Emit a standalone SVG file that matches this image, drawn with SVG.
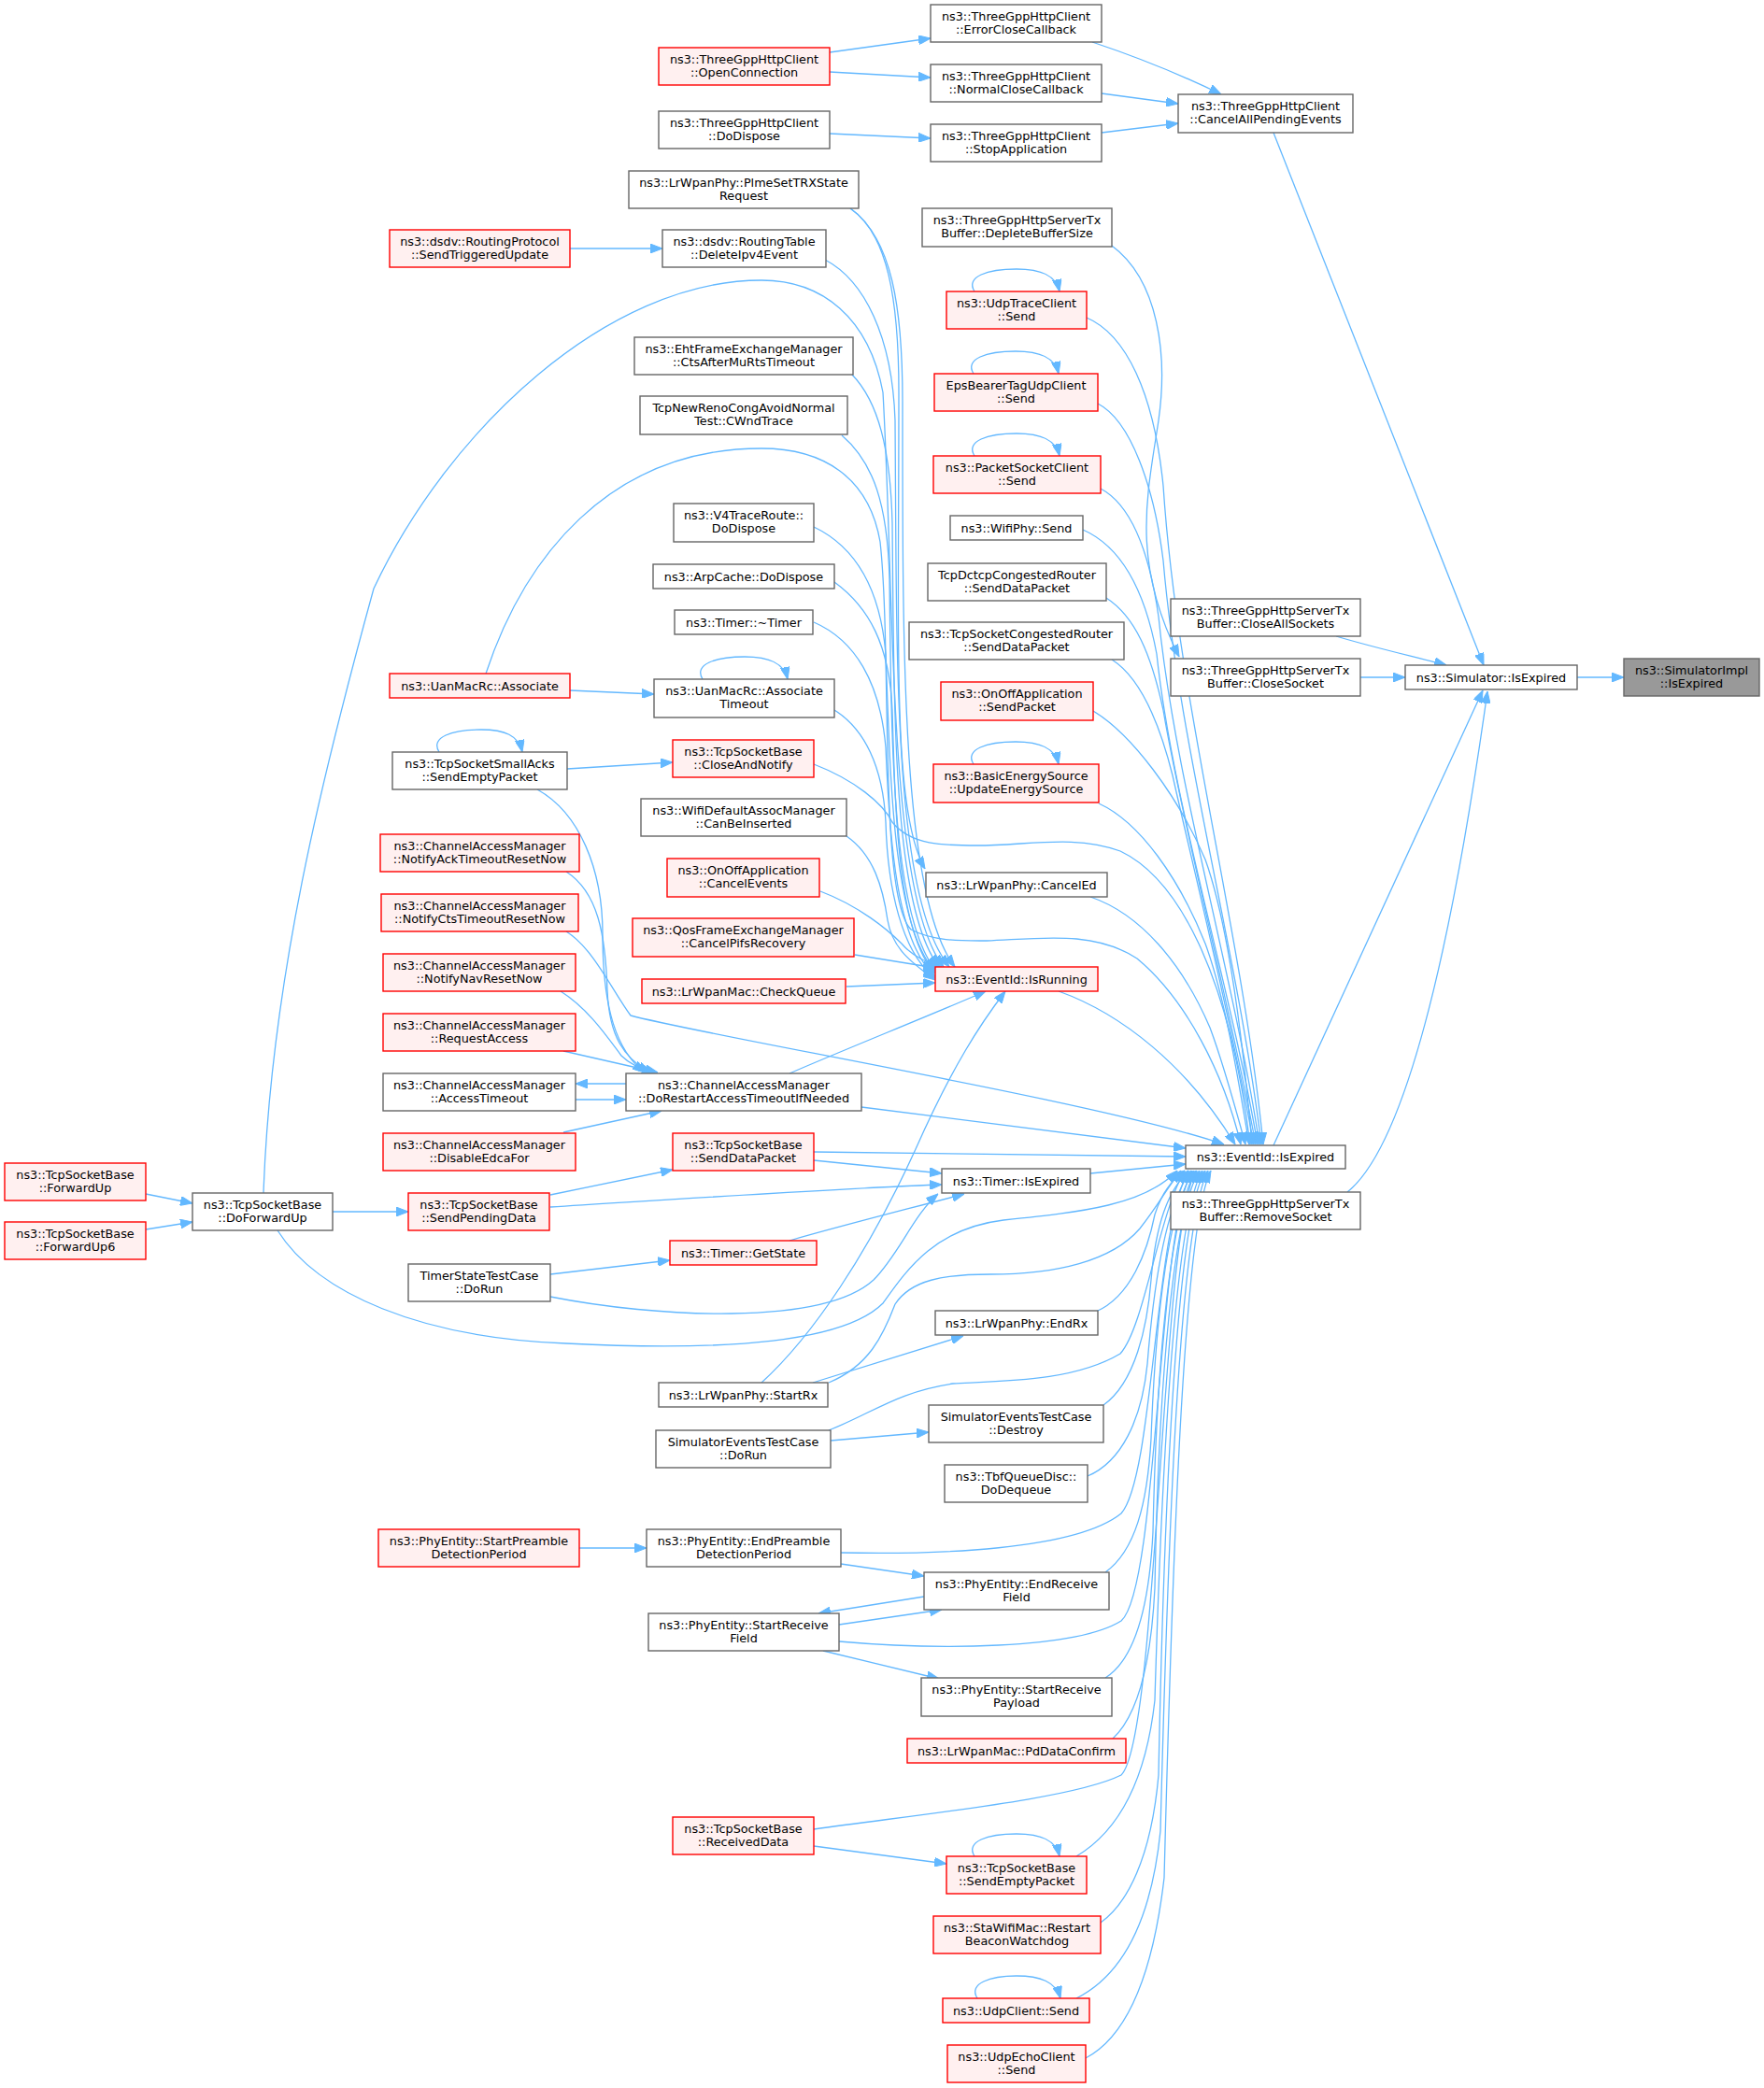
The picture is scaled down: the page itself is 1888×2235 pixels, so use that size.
<svg xmlns="http://www.w3.org/2000/svg" width="1888" height="2235" viewBox="0 0 1888 2235">
<style>
.n rect{fill:#ffffff;stroke:#666666;stroke-width:1.4}
.r rect{fill:#fff0f0;stroke:#ff0000;stroke-width:1.4}
.g rect{fill:#999999;stroke:#666666;stroke-width:1.4}
text{font-family:"DejaVu Sans","Liberation Sans",sans-serif;font-size:12.8px;text-anchor:middle;fill:#000000}
#edges path{fill:none;stroke:#63b8ff;stroke-width:1.3;marker-end:url(#a)}
</style>
<defs>
<marker id="a" viewBox="0 0 13 10" refX="13" refY="5" markerWidth="13" markerHeight="10" markerUnits="userSpaceOnUse" orient="auto">
<path d="M0,0 L13,5 L0,10 Z" fill="#63b8ff" stroke="#63b8ff" stroke-width="1"/>
</marker>
</defs>
<rect width="1888" height="2235" fill="#ffffff"/>
<g id="edges">
<path d="M1688,725 L1738,725"/>
<path d="M1363,142 L1588,712"/>
<path d="M1430,681 C1470,693 1510,702 1548,712"/>
<path d="M1456,725 L1504,725"/>
<path d="M1363,1226 L1587,739"/>
<path d="M1442,1276 C1500,1230 1550,1040 1592,740"/>
<path d="M1169,45 C1220,62 1260,78 1307,101"/>
<path d="M1179,100 L1261,111"/>
<path d="M1179,142 L1261,132"/>
<path d="M888,56 L996,41"/>
<path d="M888,77 L996,83"/>
<path d="M888,143 L996,148"/>
<path d="M610,266 L709,266"/>
<path d="M610,739 L700,743"/>
<path d="M752,727 C742,711 766,703 797,703 C822,703 839,709 843,727"/>
<path d="M470,805 C460,789 484,781 515,781 C540,781 555,787 559,805"/>
<path d="M1043,312 C1033,296 1057,288 1088,288 C1113,288 1130,294 1134,312"/>
<path d="M1042,400 C1032,384 1056,376 1087,376 C1112,376 1129,382 1133,400"/>
<path d="M1043,488 C1033,472 1057,464 1088,464 C1113,464 1130,470 1134,488"/>
<path d="M1042,818 C1032,802 1056,794 1087,794 C1112,794 1129,800 1133,818"/>
<path d="M1043,1987 C1033,1971 1057,1963 1088,1963 C1113,1963 1130,1969 1134,1987"/>
<path d="M1046,2139 C1036,2123 1060,2115 1088,2115 C1113,2115 1130,2121 1135,2139"/>
<path d="M607,823 L720,816"/>
<path d="M156,1278 L206,1288"/>
<path d="M156,1316 L206,1308"/>
<path d="M356,1297 L437,1297"/>
<path d="M589,1279 L720,1252"/>
<path d="M589,1292 C750,1282 900,1272 1008,1268"/>
<path d="M871,1233 L1269,1238"/>
<path d="M871,1242 L1008,1256"/>
<path d="M845,1328 C900,1312 980,1292 1032,1278"/>
<path d="M589,1364 L717,1349"/>
<path d="M589,1388 C700,1410 880,1420 935,1370 C962,1343 978,1300 1004,1278"/>
<path d="M670,1160 L616,1160"/>
<path d="M616,1177 L670,1177"/>
<path d="M575,845 C620,870 645,930 645,1000 C645,1080 660,1125 690,1148"/>
<path d="M606,933 C640,955 648,1000 650,1060 C652,1110 668,1132 695,1148"/>
<path d="M600,1061 C630,1080 650,1110 665,1130 C675,1140 688,1145 700,1148"/>
<path d="M603,1125 L704,1148"/>
<path d="M603,1212 L708,1189"/>
<path d="M606,997 C635,1015 655,1060 675,1087 C760,1110 1180,1180 1310,1225"/>
<path d="M845,1149 C900,1125 1000,1085 1055,1061"/>
<path d="M922,1185 L1269,1229"/>
<path d="M815,1480 C870,1430 930,1340 980,1230 C1020,1140 1050,1095 1076,1061"/>
<path d="M870,1480 L1031,1430"/>
<path d="M887,1480 C930,1462 945,1430 958,1396 C975,1370 1010,1364 1060,1364 C1130,1364 1190,1350 1220,1315 C1240,1290 1250,1270 1264,1253"/>
<path d="M889,1542 L994,1533"/>
<path d="M887,1531 C935,1512 960,1490 1020,1481 C1080,1478 1150,1478 1199,1449 C1225,1420 1240,1300 1268,1253"/>
<path d="M620,1657 L692,1657"/>
<path d="M900,1674 L989,1687"/>
<path d="M898,1739 L1008,1723"/>
<path d="M989,1709 L876,1727"/>
<path d="M881,1767 L1005,1797"/>
<path d="M900,1662 C1000,1664 1150,1660 1200,1620 C1235,1580 1235,1320 1272,1253"/>
<path d="M898,1757 C1000,1766 1150,1766 1200,1735 C1240,1700 1238,1320 1276,1253"/>
<path d="M871,1976 L1013,1995"/>
<path d="M871,1958 C1000,1940 1150,1925 1200,1900 C1240,1860 1242,1320 1280,1253"/>
<path d="M297,1317 C340,1385 450,1432 606,1438 C760,1446 900,1440 945,1395 C970,1360 1000,1315 1074,1306 C1160,1297 1225,1290 1260,1253"/>
<path d="M1173,1404 C1210,1388 1228,1340 1236,1300 C1244,1275 1255,1262 1268,1253"/>
<path d="M1181,1504 C1215,1480 1228,1420 1232,1370 C1237,1310 1250,1275 1272,1253"/>
<path d="M1164,1580 C1200,1565 1222,1520 1228,1460 C1236,1360 1250,1285 1275,1253"/>
<path d="M1183,1683 C1215,1660 1228,1610 1232,1540 C1237,1400 1252,1290 1278,1253"/>
<path d="M1183,1796 C1215,1776 1230,1720 1234,1640 C1238,1450 1254,1290 1281,1253"/>
<path d="M1191,1861 C1218,1836 1232,1780 1236,1700 C1240,1480 1256,1295 1284,1253"/>
<path d="M1152,1987 C1194,1962 1226,1910 1236,1820 C1244,1550 1258,1300 1287,1253"/>
<path d="M1178,2058 C1206,2038 1232,1990 1240,1900 C1246,1600 1260,1300 1290,1253"/>
<path d="M1152,2139 C1200,2115 1232,2058 1242,1960 C1250,1650 1262,1310 1293,1253"/>
<path d="M1162,2203 C1200,2183 1232,2130 1246,2010 C1254,1700 1266,1310 1296,1253"/>
<path d="M1167,1256 L1269,1246"/>
<path d="M1190,263 C1240,300 1250,380 1240,450 C1228,530 1210,600 1262,703"/>
<path d="M1163,340 C1205,358 1235,420 1245,520 C1260,750 1330,1000 1352,1225"/>
<path d="M1175,432 C1210,450 1235,520 1245,600 C1262,800 1325,1020 1350,1225"/>
<path d="M1178,523 C1210,540 1230,590 1240,660 C1258,840 1320,1040 1348,1225"/>
<path d="M1159,567 C1200,585 1225,630 1238,700 C1255,860 1318,1060 1346,1225"/>
<path d="M1184,640 C1215,660 1232,700 1245,760 C1265,880 1315,1070 1344,1225"/>
<path d="M1190,706 C1220,725 1240,770 1255,830 C1275,920 1315,1080 1342,1225"/>
<path d="M1170,761 C1210,785 1260,850 1290,920 C1315,990 1330,1110 1340,1225"/>
<path d="M1176,860 C1220,880 1262,940 1290,1010 C1312,1070 1326,1160 1337,1225"/>
<path d="M1167,960 C1220,978 1265,1030 1295,1100 C1310,1140 1322,1185 1333,1225"/>
<path d="M1133,1061 C1200,1085 1270,1140 1322,1225"/>
<path d="M871,818 C915,835 945,860 955,880 C975,905 1010,905 1046,905 C1100,905 1150,893 1199,911 C1260,940 1315,1040 1338,1225"/>
<path d="M520,721 C560,600 650,480 815,480 C880,480 930,510 942,580 C955,700 940,960 975,995 C1000,1008 1030,1007 1056,1007 C1110,1005 1170,995 1217,1026 C1270,1070 1310,1150 1328,1225"/>
<path d="M282,1277 C290,1050 345,830 400,630 C480,460 650,300 815,300 C880,300 930,340 945,420 C958,650 950,960 1010,1035"/>
<path d="M910,223 C950,250 962,320 962,420 C962,700 955,870 990,930"/>
<path d="M910,223 C955,255 966,330 966,430 C966,700 965,960 1022,1035"/>
<path d="M883,278 C925,300 955,360 958,450 C960,700 955,960 1016,1035"/>
<path d="M912,401 C940,430 953,480 955,560 C957,760 955,970 1005,1035"/>
<path d="M901,466 C935,495 950,540 952,620 C954,800 955,980 1001,1038"/>
<path d="M871,564 C915,585 942,630 948,700 C953,830 955,990 1001,1040"/>
<path d="M893,623 C930,650 952,690 955,760 C958,860 960,1000 1001,1042"/>
<path d="M871,666 C915,685 942,730 948,800 C952,900 960,1010 1001,1045"/>
<path d="M893,760 C925,780 945,820 948,880 C950,950 965,1020 1001,1047"/>
<path d="M906,895 C935,915 945,950 950,985 C955,1015 975,1030 1001,1049"/>
<path d="M878,954 C920,970 950,995 965,1010 C975,1022 990,1030 1008,1035"/>
<path d="M915,1022 L1001,1036"/>
<path d="M906,1056 L1001,1052"/>
</g>
<g id="n1" class="g"><rect x="1738" y="705" width="145" height="40"/><text x="1810.5" y="722">ns3::SimulatorImpl<tspan x="1810.5" dy="14">::IsExpired</tspan></text></g>
<g id="n2" class="n"><rect x="1504" y="712" width="184" height="26"/><text x="1596" y="729.5">ns3::Simulator::IsExpired</text></g>
<g id="n3" class="n"><rect x="1261" y="101" width="187" height="41"/><text x="1354.5" y="118">ns3::ThreeGppHttpClient<tspan x="1354.5" dy="14">::CancelAllPendingEvents</tspan></text></g>
<g id="n4" class="n"><rect x="996" y="5" width="183" height="40"/><text x="1087.5" y="22">ns3::ThreeGppHttpClient<tspan x="1087.5" dy="14">::ErrorCloseCallback</tspan></text></g>
<g id="n5" class="n"><rect x="996" y="69" width="183" height="40"/><text x="1087.5" y="86">ns3::ThreeGppHttpClient<tspan x="1087.5" dy="14">::NormalCloseCallback</tspan></text></g>
<g id="n6" class="n"><rect x="996" y="133" width="183" height="40"/><text x="1087.5" y="150">ns3::ThreeGppHttpClient<tspan x="1087.5" dy="14">::StopApplication</tspan></text></g>
<g id="n7" class="r"><rect x="705" y="51" width="183" height="40"/><text x="796.5" y="68">ns3::ThreeGppHttpClient<tspan x="796.5" dy="14">::OpenConnection</tspan></text></g>
<g id="n8" class="n"><rect x="705" y="119" width="183" height="40"/><text x="796.5" y="136">ns3::ThreeGppHttpClient<tspan x="796.5" dy="14">::DoDispose</tspan></text></g>
<g id="n9" class="n"><rect x="673" y="183" width="246" height="40"/><text x="796" y="200">ns3::LrWpanPhy::PlmeSetTRXState<tspan x="796" dy="14">Request</tspan></text></g>
<g id="n10" class="r"><rect x="417" y="246" width="193" height="40"/><text x="513.5" y="263">ns3::dsdv::RoutingProtocol<tspan x="513.5" dy="14">::SendTriggeredUpdate</tspan></text></g>
<g id="n11" class="n"><rect x="709" y="246" width="175" height="40"/><text x="796.5" y="263">ns3::dsdv::RoutingTable<tspan x="796.5" dy="14">::DeleteIpv4Event</tspan></text></g>
<g id="n12" class="n"><rect x="679" y="361" width="234" height="40"/><text x="796" y="378">ns3::EhtFrameExchangeManager<tspan x="796" dy="14">::CtsAfterMuRtsTimeout</tspan></text></g>
<g id="n13" class="n"><rect x="685" y="424" width="222" height="41"/><text x="796" y="441">TcpNewRenoCongAvoidNormal<tspan x="796" dy="14">Test::CWndTrace</tspan></text></g>
<g id="n14" class="n"><rect x="721" y="539" width="150" height="41"/><text x="796" y="556">ns3::V4TraceRoute::<tspan x="796" dy="14">DoDispose</tspan></text></g>
<g id="n15" class="n"><rect x="699" y="604" width="194" height="26"/><text x="796" y="621.5">ns3::ArpCache::DoDispose</text></g>
<g id="n16" class="n"><rect x="722" y="653" width="148" height="26"/><text x="796" y="670.5">ns3::Timer::~Timer</text></g>
<g id="n17" class="r"><rect x="417" y="721" width="193" height="26"/><text x="513.5" y="738.5">ns3::UanMacRc::Associate</text></g>
<g id="n18" class="n"><rect x="700" y="727" width="193" height="41"/><text x="796.5" y="744">ns3::UanMacRc::Associate<tspan x="796.5" dy="14">Timeout</tspan></text></g>
<g id="n19" class="n"><rect x="420" y="805" width="187" height="40"/><text x="513.5" y="822">ns3::TcpSocketSmallAcks<tspan x="513.5" dy="14">::SendEmptyPacket</tspan></text></g>
<g id="n20" class="r"><rect x="720" y="792" width="151" height="40"/><text x="795.5" y="809">ns3::TcpSocketBase<tspan x="795.5" dy="14">::CloseAndNotify</tspan></text></g>
<g id="n21" class="n"><rect x="686" y="855" width="220" height="40"/><text x="796" y="872">ns3::WifiDefaultAssocManager<tspan x="796" dy="14">::CanBeInserted</tspan></text></g>
<g id="n22" class="r"><rect x="407" y="893" width="213" height="40"/><text x="513.5" y="910">ns3::ChannelAccessManager<tspan x="513.5" dy="14">::NotifyAckTimeoutResetNow</tspan></text></g>
<g id="n23" class="r"><rect x="714" y="919" width="163" height="41"/><text x="795.5" y="936">ns3::OnOffApplication<tspan x="795.5" dy="14">::CancelEvents</tspan></text></g>
<g id="n24" class="r"><rect x="408" y="957" width="211" height="40"/><text x="513.5" y="974">ns3::ChannelAccessManager<tspan x="513.5" dy="14">::NotifyCtsTimeoutResetNow</tspan></text></g>
<g id="n25" class="r"><rect x="677" y="983" width="237" height="41"/><text x="795.5" y="1000">ns3::QosFrameExchangeManager<tspan x="795.5" dy="14">::CancelPifsRecovery</tspan></text></g>
<g id="n26" class="r"><rect x="410" y="1021" width="206" height="40"/><text x="513" y="1038">ns3::ChannelAccessManager<tspan x="513" dy="14">::NotifyNavResetNow</tspan></text></g>
<g id="n27" class="r"><rect x="687" y="1048" width="218" height="26"/><text x="796" y="1065.5">ns3::LrWpanMac::CheckQueue</text></g>
<g id="n28" class="r"><rect x="410" y="1085" width="206" height="40"/><text x="513" y="1102">ns3::ChannelAccessManager<tspan x="513" dy="14">::RequestAccess</tspan></text></g>
<g id="n29" class="n"><rect x="410" y="1149" width="206" height="40"/><text x="513" y="1166">ns3::ChannelAccessManager<tspan x="513" dy="14">::AccessTimeout</tspan></text></g>
<g id="n30" class="n"><rect x="670" y="1149" width="252" height="40"/><text x="796" y="1166">ns3::ChannelAccessManager<tspan x="796" dy="14">::DoRestartAccessTimeoutIfNeeded</tspan></text></g>
<g id="n31" class="r"><rect x="410" y="1213" width="206" height="40"/><text x="513" y="1230">ns3::ChannelAccessManager<tspan x="513" dy="14">::DisableEdcaFor</tspan></text></g>
<g id="n32" class="r"><rect x="720" y="1213" width="151" height="40"/><text x="795.5" y="1230">ns3::TcpSocketBase<tspan x="795.5" dy="14">::SendDataPacket</tspan></text></g>
<g id="n33" class="r"><rect x="5" y="1245" width="151" height="40"/><text x="80.5" y="1262">ns3::TcpSocketBase<tspan x="80.5" dy="14">::ForwardUp</tspan></text></g>
<g id="n34" class="n"><rect x="206" y="1277" width="150" height="40"/><text x="281" y="1294">ns3::TcpSocketBase<tspan x="281" dy="14">::DoForwardUp</tspan></text></g>
<g id="n35" class="r"><rect x="437" y="1277" width="151" height="40"/><text x="512.5" y="1294">ns3::TcpSocketBase<tspan x="512.5" dy="14">::SendPendingData</tspan></text></g>
<g id="n36" class="r"><rect x="5" y="1308" width="151" height="40"/><text x="80.5" y="1325">ns3::TcpSocketBase<tspan x="80.5" dy="14">::ForwardUp6</tspan></text></g>
<g id="n37" class="r"><rect x="717" y="1328" width="157" height="26"/><text x="795.5" y="1345.5">ns3::Timer::GetState</text></g>
<g id="n38" class="n"><rect x="437" y="1353" width="152" height="40"/><text x="513" y="1370">TimerStateTestCase<tspan x="513" dy="14">::DoRun</tspan></text></g>
<g id="n39" class="n"><rect x="705" y="1480" width="181" height="26"/><text x="795.5" y="1497.5">ns3::LrWpanPhy::StartRx</text></g>
<g id="n40" class="n"><rect x="702" y="1531" width="187" height="40"/><text x="795.5" y="1548">SimulatorEventsTestCase<tspan x="795.5" dy="14">::DoRun</tspan></text></g>
<g id="n41" class="r"><rect x="405" y="1637" width="215" height="40"/><text x="512.5" y="1654">ns3::PhyEntity::StartPreamble<tspan x="512.5" dy="14">DetectionPeriod</tspan></text></g>
<g id="n42" class="n"><rect x="692" y="1637" width="208" height="40"/><text x="796" y="1654">ns3::PhyEntity::EndPreamble<tspan x="796" dy="14">DetectionPeriod</tspan></text></g>
<g id="n43" class="n"><rect x="694" y="1727" width="204" height="40"/><text x="796" y="1744">ns3::PhyEntity::StartReceive<tspan x="796" dy="14">Field</tspan></text></g>
<g id="n44" class="r"><rect x="720" y="1945" width="151" height="40"/><text x="795.5" y="1962">ns3::TcpSocketBase<tspan x="795.5" dy="14">::ReceivedData</tspan></text></g>
<g id="n45" class="n"><rect x="987" y="223" width="203" height="41"/><text x="1088.5" y="240">ns3::ThreeGppHttpServerTx<tspan x="1088.5" dy="14">Buffer::DepleteBufferSize</tspan></text></g>
<g id="n46" class="r"><rect x="1013" y="312" width="150" height="40"/><text x="1088" y="329">ns3::UdpTraceClient<tspan x="1088" dy="14">::Send</tspan></text></g>
<g id="n47" class="r"><rect x="1000" y="400" width="175" height="40"/><text x="1087.5" y="417">EpsBearerTagUdpClient<tspan x="1087.5" dy="14">::Send</tspan></text></g>
<g id="n48" class="r"><rect x="999" y="488" width="179" height="40"/><text x="1088.5" y="505">ns3::PacketSocketClient<tspan x="1088.5" dy="14">::Send</tspan></text></g>
<g id="n49" class="n"><rect x="1017" y="552" width="142" height="26"/><text x="1088" y="569.5">ns3::WifiPhy::Send</text></g>
<g id="n50" class="n"><rect x="993" y="603" width="191" height="40"/><text x="1088.5" y="620">TcpDctcpCongestedRouter<tspan x="1088.5" dy="14">::SendDataPacket</tspan></text></g>
<g id="n51" class="n"><rect x="973" y="666" width="230" height="40"/><text x="1088" y="683">ns3::TcpSocketCongestedRouter<tspan x="1088" dy="14">::SendDataPacket</tspan></text></g>
<g id="n52" class="r"><rect x="1007" y="730" width="163" height="41"/><text x="1088.5" y="747">ns3::OnOffApplication<tspan x="1088.5" dy="14">::SendPacket</tspan></text></g>
<g id="n53" class="r"><rect x="999" y="818" width="177" height="41"/><text x="1087.5" y="835">ns3::BasicEnergySource<tspan x="1087.5" dy="14">::UpdateEnergySource</tspan></text></g>
<g id="n54" class="n"><rect x="991" y="934" width="194" height="26"/><text x="1088" y="951.5">ns3::LrWpanPhy::CancelEd</text></g>
<g id="n55" class="r"><rect x="1001" y="1035" width="174" height="26"/><text x="1088" y="1052.5">ns3::EventId::IsRunning</text></g>
<g id="n56" class="n"><rect x="1008" y="1251" width="159" height="26"/><text x="1087.5" y="1268.5">ns3::Timer::IsExpired</text></g>
<g id="n57" class="n"><rect x="1001" y="1403" width="174" height="26"/><text x="1088" y="1420.5">ns3::LrWpanPhy::EndRx</text></g>
<g id="n58" class="n"><rect x="994" y="1504" width="187" height="40"/><text x="1087.5" y="1521">SimulatorEventsTestCase<tspan x="1087.5" dy="14">::Destroy</tspan></text></g>
<g id="n59" class="n"><rect x="1011" y="1568" width="153" height="40"/><text x="1087.5" y="1585">ns3::TbfQueueDisc::<tspan x="1087.5" dy="14">DoDequeue</tspan></text></g>
<g id="n60" class="n"><rect x="989" y="1683" width="198" height="40"/><text x="1088" y="1700">ns3::PhyEntity::EndReceive<tspan x="1088" dy="14">Field</tspan></text></g>
<g id="n61" class="n"><rect x="986" y="1796" width="204" height="41"/><text x="1088" y="1813">ns3::PhyEntity::StartReceive<tspan x="1088" dy="14">Payload</tspan></text></g>
<g id="n62" class="r"><rect x="971" y="1861" width="234" height="26"/><text x="1088" y="1878.5">ns3::LrWpanMac::PdDataConfirm</text></g>
<g id="n63" class="r"><rect x="1013" y="1987" width="150" height="40"/><text x="1088" y="2004">ns3::TcpSocketBase<tspan x="1088" dy="14">::SendEmptyPacket</tspan></text></g>
<g id="n64" class="r"><rect x="999" y="2051" width="179" height="40"/><text x="1088.5" y="2068">ns3::StaWifiMac::Restart<tspan x="1088.5" dy="14">BeaconWatchdog</tspan></text></g>
<g id="n65" class="r"><rect x="1009" y="2139" width="157" height="26"/><text x="1087.5" y="2156.5">ns3::UdpClient::Send</text></g>
<g id="n66" class="r"><rect x="1014" y="2189" width="148" height="40"/><text x="1088" y="2206">ns3::UdpEchoClient<tspan x="1088" dy="14">::Send</tspan></text></g>
<g id="n67" class="n"><rect x="1253" y="641" width="203" height="40"/><text x="1354.5" y="658">ns3::ThreeGppHttpServerTx<tspan x="1354.5" dy="14">Buffer::CloseAllSockets</tspan></text></g>
<g id="n68" class="n"><rect x="1253" y="705" width="203" height="40"/><text x="1354.5" y="722">ns3::ThreeGppHttpServerTx<tspan x="1354.5" dy="14">Buffer::CloseSocket</tspan></text></g>
<g id="n69" class="n"><rect x="1269" y="1226" width="171" height="25"/><text x="1354.5" y="1243">ns3::EventId::IsExpired</text></g>
<g id="n70" class="n"><rect x="1253" y="1276" width="203" height="40"/><text x="1354.5" y="1293">ns3::ThreeGppHttpServerTx<tspan x="1354.5" dy="14">Buffer::RemoveSocket</tspan></text></g>
</svg>
